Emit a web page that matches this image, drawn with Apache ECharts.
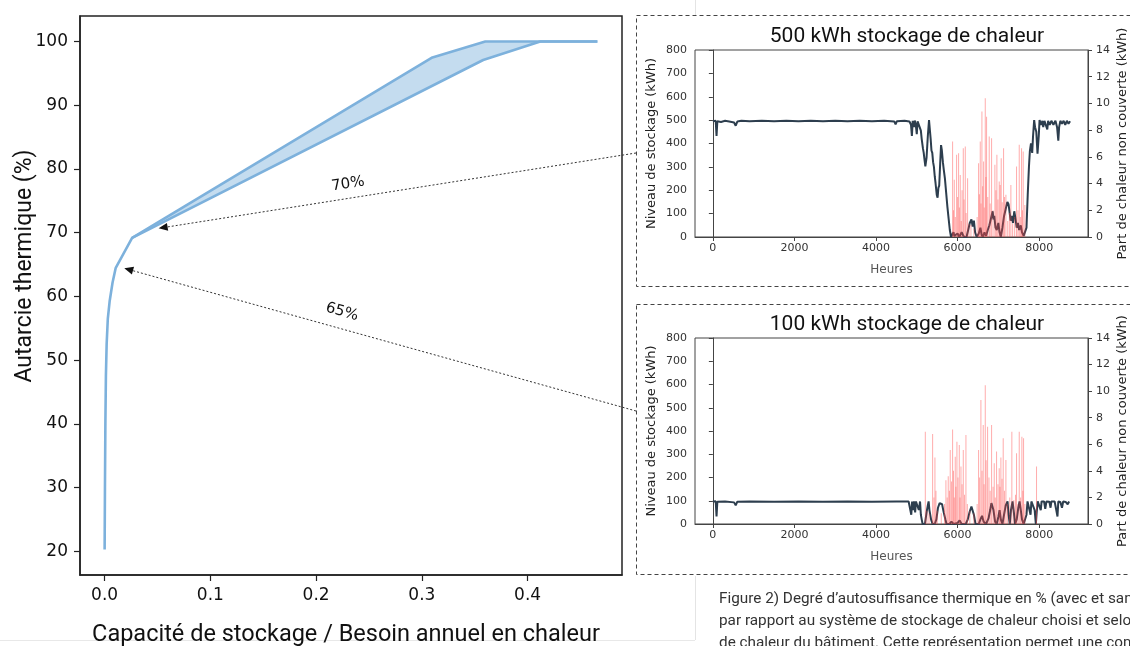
<!DOCTYPE html>
<html><head><meta charset="utf-8">
<script src="https://cdn.jsdelivr.net/npm/echarts@6/dist/echarts.min.js"></script>
<style>html,body{margin:0;padding:0;background:#fff}#c{width:1130px;height:646px}</style>
</head><body><div id="c"></div>
<script>
// ---- Main chart data (storage ratio vs. thermal autarky %) ----
const baseCurve = [[0,20.3],[0.0003,30],[0.0007,40],[0.0012,47.5],[0.0019,52.5],[0.003,56.5],[0.0047,59.2],[0.0075,62.2],[0.0105,64.5],[0.026,69.2]];
const bandUpper = [[0.026,69.2],[0.31,97.5],[0.36,100],[0.466,100]];
const bandLower = [[0.026,69.2],[0.358,97.1],[0.412,100],[0.466,100]];
const mainXTicks = [0,0.1,0.2,0.3,0.4];
const mainYTicks = [20,30,40,50,60,70,80,90,100];
const annot70 = [0.0511,70.69];
const annot65 = [0.0186,64.42];

// ---- Insets ----
const insetXTicks = [0,2000,4000,6000,8000];
const storage500 = [[0,495],[40,490],[70,497],[90,432],[110,495],[200,492],[300,497],[400,494],[520,490],[560,476],[600,494],[700,497],[900,495],[1200,497],[1500,495],[1800,497],[2100,495],[2400,497],[2700,495],[3000,497],[3300,495],[3600,497],[3900,495],[4200,497],[4450,494],[4480,482],[4510,495],[4700,497],[4820,494],
[4858,480],[4880,432],[4900,497],[4930,470],[4950,498],[4975,480],[5000,440],[5020,495],[5045,497],[5070,470],[5100,455],[5120,420],[5150,380],[5170,360],[5190,330],[5210,302],[5240,340],[5270,430],[5300,500],[5320,460],[5340,420],[5360,370],[5380,360],[5400,320],[5420,300],[5440,260],[5460,230],[5490,180],[5510,168],[5530,210],[5550,220],[5575,320],[5595,393],[5615,370],[5640,320],[5660,290],[5690,250],[5720,190],[5750,130],[5780,80],[5810,30],[5840,0],
[5880,0],[5900,20],[5920,5],[5960,0],[6000,15],[6040,0],[6100,20],[6130,10],[6160,0],[6220,0],[6260,30],[6300,60],[6340,75],[6370,45],[6400,70],[6430,20],[6470,0],[6520,15],[6560,40],[6590,10],[6620,0],[6660,20],[6700,5],[6740,30],[6780,50],[6820,80],[6860,110],[6880,75],[6900,90],[6930,40],[6960,30],[7000,60],[7030,20],[7060,0],[7100,40],[7140,90],[7180,120],[7220,150],[7250,140],[7280,100],[7300,70],[7330,90],[7360,60],[7390,110],[7420,80],[7450,40],[7480,60],[7510,30],[7550,50],[7580,20],[7620,5],[7660,0],
[7690,40],[7720,180],[7750,300],[7772,366],[7800,400],[7830,360],[7850,430],[7878,500],[7900,470],[7930,450],[7960,356],[7990,430],[8010,500],[8050,480],[8080,497],[8100,470],[8130,497],[8160,490],[8200,460],[8220,497],[8260,480],[8300,497],[8350,480],[8400,497],[8440,470],[8470,412],[8490,470],[8520,497],[8560,485],[8600,497],[8640,480],[8680,497],[8720,485],[8760,495]];
const uncovered500 = [[5878,7.15],[5900,2.0],[5919,4.28],[5945,1.5],[5976,6.15],[6000,3.0],[6025,6.27],[6045,2.2],[6066,4.65],[6090,1.2],[6110,3.5],[6140,6.65],[6160,2.8],[6189,6.77],[6210,1.8],[6246,4.4],[6280,1.0],[6328,0.9],[6400,0.6],[6480,1.5],[6515,5.53],[6535,3.2],[6556,7.15],[6575,2.5],[6597,9.39],[6615,3.8],[6638,5.65],[6655,2.2],[6679,10.39],[6695,4.5],[6711,9.0],[6740,3.0],[6776,7.52],[6800,2.5],[6834,7.4],[6870,2.0],[6915,5.4],[6940,3.5],[6964,6.15],[6990,2.8],[7021,4.15],[7045,3.9],[7070,5.9],[7095,2.6],[7128,6.65],[7150,3.0],[7185,3.16],[7230,1.2],[7270,1.8],[7307,3.9],[7350,1.0],[7400,1.5],[7446,5.28],[7480,2.0],[7512,6.9],[7540,1.5],[7569,6.65],[7590,2.0],[7609,6.4],[7650,2.4]];
const storage100 = [[0,97],[40,95],[70,98],[90,32],[110,96],[300,97],[520,93],[560,80],[600,96],[900,97],[1500,96],[2100,97],[2700,96],[3300,97],[3900,96],[4500,97],[4800,97],[4840,94],[4865,40],[4885,97],[4910,60],[4930,97],[4960,50],[4980,97],[5020,96],[5050,60],[5080,97],[5100,40],[5120,20],[5143,0],[5200,0],[5240,50],[5270,80],[5290,97],[5310,60],[5350,20],[5388,0],[5440,0],[5480,20],[5520,70],[5560,90],[5592,97],[5620,85],[5660,50],[5700,20],[5730,0],
[5800,0],[5850,10],[5900,0],[6000,5],[6050,15],[6100,0],[6200,0],[6250,20],[6300,55],[6340,75],[6368,78],[6400,40],[6440,0],[6520,0],[6560,20],[6600,35],[6640,10],[6700,0],[6760,25],[6800,60],[6830,90],[6858,97],[6880,60],[6920,10],[6960,0],[7000,30],[7030,60],[7060,20],[7100,0],[7140,40],[7180,80],[7225,97],[7250,40],[7280,0],[7310,60],[7348,97],[7380,50],[7410,0],[7450,20],[7490,70],[7520,97],[7550,60],[7580,20],[7620,0],[7660,0],[7690,40],[7715,97],[7750,95],[7790,40],[7810,97],[7850,96],[7890,60],[7919,0],[7940,50],[7965,97],[8000,95],[8040,60],[8060,97],[8120,97],[8150,65],[8180,97],[8250,96],[8280,70],[8300,97],[8380,97],[8420,60],[8450,32],[8470,97],[8520,95],[8560,70],[8590,97],[8650,95],[8700,85],[8735,97]];
const uncovered100 = [[5209,6.95],[5250,1.0],[5300,0.8],[5388,6.78],[5420,2.0],[5445,5.0],[5470,2.5],[5500,1.0],[5600,0.8],[5680,1.5],[5714,3.3],[5745,2.0],[5771,3.6],[5800,2.5],[5820,5.57],[5850,3.2],[5878,7.12],[5900,4.0],[5920,2.0],[5943,5.07],[5960,2.8],[5984,6.2],[6010,3.5],[6042,5.95],[6060,2.0],[6083,4.32],[6110,3.0],[6140,5.57],[6170,2.2],[6205,6.7],[6240,1.5],[6300,1.0],[6400,0.8],[6480,1.5],[6515,5.57],[6540,3.5],[6572,9.33],[6600,4.0],[6629,7.45],[6650,3.0],[6679,10.45],[6700,4.8],[6736,7.32],[6770,3.5],[6800,2.5],[6834,7.45],[6870,2.8],[6899,4.57],[6925,2.0],[6956,5.45],[6990,3.0],[7021,4.2],[7040,2.8],[7062,5.0],[7090,3.4],[7119,6.45],[7150,2.5],[7185,4.82],[7220,1.5],[7280,2.0],[7331,6.95],[7380,1.8],[7420,2.2],[7446,5.32],[7480,1.5],[7512,6.95],[7545,2.0],[7577,6.57],[7600,2.5],[7618,6.45],[7650,1.5],[7936,4.32]];

const chart = echarts.init(document.getElementById('c'), null, {renderer:'canvas', width:1130, height:646});
const MPL = 'DejaVu Sans';
const blue = '#7db1dc';
const dark = '#2d3e4e';
const red = 'rgba(255,70,70,0.45)';

function insetX(gi){
  return {type:'value', gridIndex:gi, min:-438, max:9198, name:'Heures', nameLocation:'middle', nameGap:27,
    nameTextStyle:{fontFamily:MPL, fontSize:12, color:'#555'},
    axisLine:{show:true, onZero:false, lineStyle:{color:'#444', width:1}},
    axisTick:{show:true, length:4, customValues:insetXTicks, lineStyle:{color:'#444'}},
    axisLabel:{customValues:insetXTicks, fontFamily:MPL, fontSize:11, color:'#333', margin:6, formatter:v=>String(v)},
    splitLine:{show:false}};
}
function insetYL(gi){
  return {type:'value', gridIndex:gi, position:'left', min:0, max:800, interval:100,
    name:'Niveau de stockage (kWh)', nameLocation:'middle', nameGap:37, nameRotate:90,
    nameTextStyle:{fontFamily:MPL, fontSize:13, color:'#222'},
    axisLine:{show:true, lineStyle:{color:'#444', width:1}},
    axisTick:{show:true, length:4, lineStyle:{color:'#444'}},
    axisLabel:{fontFamily:MPL, fontSize:11, color:'#333', margin:8},
    splitLine:{show:false}};
}
function insetYR(gi){
  return {type:'value', gridIndex:gi, position:'right', min:0, max:14, interval:2,
    name:'Part de chaleur non couverte (kWh)', nameLocation:'middle', nameGap:28, nameRotate:90,
    nameTextStyle:{fontFamily:MPL, fontSize:13, color:'#222'},
    axisLine:{show:true, lineStyle:{color:'#444', width:1}},
    axisTick:{show:true, length:4, lineStyle:{color:'#444'}},
    axisLabel:{fontFamily:MPL, fontSize:11, color:'#333', margin:8},
    splitLine:{show:false}};
}

const option = {
  animation:false,
  backgroundColor:'#fff',
  title:[
    {text:'500 kWh stockage de chaleur', left:902, top:21, textAlign:'center', textStyle:{fontFamily:'Roboto', fontSize:21, fontWeight:'normal', color:'#111'}},
    {text:'100 kWh stockage de chaleur', left:902, top:309, textAlign:'center', textStyle:{fontFamily:'Roboto', fontSize:21, fontWeight:'normal', color:'#111'}}
  ],
  grid:[
    {left:80, top:16, width:542, height:559, show:true, borderColor:'#222', borderWidth:1.5, backgroundColor:'transparent'},
    {left:695, top:50, width:394, height:187, show:true, borderColor:'#444', borderWidth:1, backgroundColor:'transparent'},
    {left:695, top:338, width:394, height:186, show:true, borderColor:'#444', borderWidth:1, backgroundColor:'transparent'}
  ],
  xAxis:[
    {type:'value', gridIndex:0, min:-0.0233, max:0.4893,
      axisLine:{show:true, onZero:false, lineStyle:{color:'#222', width:1.5}},
      axisTick:{show:true, length:6, customValues:mainXTicks, lineStyle:{color:'#222', width:1.2}},
      axisLabel:{customValues:mainXTicks, fontFamily:MPL, fontSize:17, color:'#111', margin:12, formatter:v=>v.toFixed(1)},
      splitLine:{show:false}},
    insetX(1), insetX(2)
  ],
  yAxis:[
    {type:'value', gridIndex:0, min:16.3, max:104,
      axisLine:{show:true, onZero:false, lineStyle:{color:'#222', width:1.5}},
      axisTick:{show:true, length:6, customValues:mainYTicks, lineStyle:{color:'#222', width:1.2}},
      axisLabel:{customValues:mainYTicks, fontFamily:MPL, fontSize:17, color:'#111', margin:12},
      splitLine:{show:false}},
    insetYL(1), insetYR(1), insetYL(2), insetYR(2)
  ],
  series:[
    {type:'custom', xAxisIndex:0, yAxisIndex:0, silent:true, z:1,
      data:[[0.2,85]],
      renderItem:(params, api)=>{
        const pts = bandUpper.map(p=>api.coord(p)).concat(bandLower.slice().reverse().map(p=>api.coord(p)));
        return {type:'polygon', shape:{points:pts}, style:{fill:'rgba(125,177,220,0.45)'}};
      }},
    {type:'line', xAxisIndex:0, yAxisIndex:0, data:baseCurve.concat(bandLower.slice(1)), symbol:'none', z:3,
      lineStyle:{color:blue, width:2.6}},
    {type:'line', xAxisIndex:0, yAxisIndex:0, data:bandUpper, symbol:'none', z:3,
      lineStyle:{color:blue, width:2.6}},

    {type:'line', xAxisIndex:1, yAxisIndex:1, data:storage500, symbol:'none', z:2,
      lineStyle:{color:dark, width:2}},
    {type:'bar', xAxisIndex:1, yAxisIndex:2, data:uncovered500, barWidth:1, z:4,
      itemStyle:{color:red}},

    {type:'line', xAxisIndex:2, yAxisIndex:3, data:storage100, symbol:'none', z:2,
      lineStyle:{color:dark, width:2}},
    {type:'bar', xAxisIndex:2, yAxisIndex:4, data:uncovered100, barWidth:1, z:4,
      itemStyle:{color:red}}
  ]
};
chart.setOption(option);

// ---- annotations (figure layout) ----
function arrow(tip, start){
  const dx = tip[0]-start[0], dy = tip[1]-start[1];
  const L = Math.hypot(dx,dy), ux = dx/L, uy = dy/L;
  const hl = 9, hw = 4;
  const bx = tip[0]-ux*hl, by = tip[1]-uy*hl;
  return [
    {type:'line', z:50, shape:{x1:start[0], y1:start[1], x2:bx, y2:by}, style:{stroke:'#333', lineWidth:1, lineDash:[2,2]}},
    {type:'polygon', z:50, shape:{points:[tip,[bx-uy*hw, by+ux*hw],[bx+uy*hw, by-ux*hw]]}, style:{fill:'#111'}}
  ];
}
const tip70 = chart.convertToPixel({gridIndex:0}, annot70);
const tip65 = chart.convertToPixel({gridIndex:0}, annot65);
const capFont = '15.3px Roboto';
const g = [
  {type:'rect', z:40, shape:{x:636.5, y:15.5, width:520, height:271}, style:{fill:'none', stroke:'#444', lineWidth:1, lineDash:[4,3]}},
  {type:'rect', z:40, shape:{x:636.5, y:304.5, width:520, height:270}, style:{fill:'none', stroke:'#444', lineWidth:1, lineDash:[4,3]}},
  {type:'line', z:0, shape:{x1:695.5, y1:0, x2:695.5, y2:15}, style:{stroke:'#e4e4e4', lineWidth:1}},
  {type:'line', z:0, shape:{x1:695.5, y1:576, x2:695.5, y2:640}, style:{stroke:'#e4e4e4', lineWidth:1}},
  {type:'line', z:0, shape:{x1:0, y1:640.5, x2:695, y2:640.5}, style:{stroke:'#e8e8e8', lineWidth:1}},
  ...arrow(tip70, [636,153]),
  ...arrow(tip65, [636,411]),
  {type:'text', z:50, x:348, y:184, rotation:0.156, style:{text:'70%', font:'15px "DejaVu Sans"', fill:'#111', align:'center', verticalAlign:'middle'}},
  {type:'text', z:50, x:342, y:312, rotation:-0.272, style:{text:'65%', font:'15px "DejaVu Sans"', fill:'#111', align:'center', verticalAlign:'middle'}},
  {type:'text', z:50, x:25, y:266, rotation:Math.PI/2, style:{text:'Autarcie thermique (%)', font:'23px Roboto', fill:'#111', align:'center', verticalAlign:'middle'}},
  {type:'text', z:50, x:346, y:635, style:{text:'Capacité de stockage / Besoin annuel en chaleur', font:'23.5px Roboto', fill:'#111', align:'center', verticalAlign:'middle'}},
  {type:'text', z:50, x:719, y:599, style:{text:'Figure 2) Degré d’autosuffisance thermique en % (avec et sans', font:capFont, fill:'#333', verticalAlign:'middle'}},
  {type:'text', z:50, x:719, y:621, style:{text:'par rapport au système de stockage de chaleur choisi et selon', font:capFont, fill:'#333', verticalAlign:'middle'}},
  {type:'text', z:50, x:719, y:643, style:{text:'de chaleur du bâtiment. Cette représentation permet une comparaison', font:capFont, fill:'#333', verticalAlign:'middle'}}
];
chart.setOption({graphic:g});
</script></body></html>
